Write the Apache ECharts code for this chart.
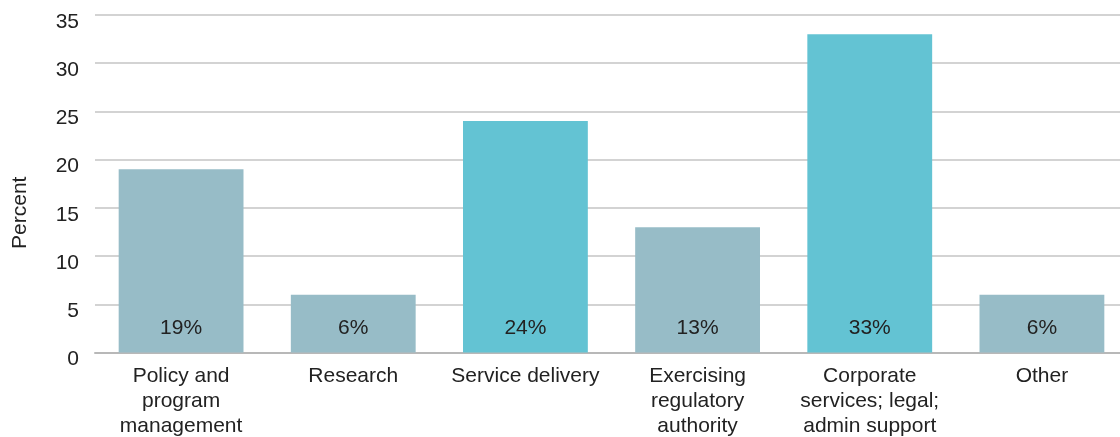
<!DOCTYPE html>
<html><head><meta charset="utf-8">
<script src="https://cdn.jsdelivr.net/npm/echarts@6/dist/echarts.min.js"></script>
<style>html,body{margin:0;padding:0;background:#fff;overflow:hidden}#wrap{width:1120px;height:437px;overflow:hidden}#c{width:1128px;height:437px}</style>
</head><body><div id="wrap"><div id="c"></div></div>
<script>
const categories = ["Policy and\nprogram\nmanagement", "Research", "Service delivery", "Exercising\nregulatory\nauthority", "Corporate\nservices; legal;\nadmin support", "Other"];
const values = [19, 6, 24, 13, 33, 6];
const highlight = [false, false, true, false, true, false];
const yTicks = {min: 0, max: 35, interval: 5};
const colorA = "#97BCC7", colorB = "#63C3D3";
const font = 'Liberation Sans, Arial, sans-serif';
const chart = echarts.init(document.getElementById('c'));
chart.setOption({
  animation: false,
  grid: {left: 95, right: 0, top: 15, bottom: 84.5, containLabel: false, outerBoundsMode: 'none'},
  xAxis: {
    type: 'category', data: categories,
    axisLine: {show: true, lineStyle: {color: '#b8b8b8', width: 2}},
    axisTick: {show: false},
    axisLabel: {color: '#222', fontSize: 21, fontFamily: font, lineHeight: 25, margin: 11, interval: 0}
  },
  yAxis: {
    type: 'value', min: yTicks.min, max: yTicks.max, interval: yTicks.interval,
    name: 'Percent', nameLocation: 'middle', nameGap: 64, nameRotate: 90,
    nameTextStyle: {color: '#222', fontSize: 21, fontFamily: font, padding: [0, 58, 0, 0]},
    axisLine: {show: false}, axisTick: {show: false},
    axisLabel: {
      color: '#222', fontSize: 21, fontFamily: font, margin: 16,
      formatter: '{a|{value}}',
      rich: {a: {fontSize: 21, fontFamily: font, color: '#222', padding: [14, 0, 0, 0]}}
    },
    splitLine: {lineStyle: {color: '#c4c4c4', width: 1.5}}
  },
  series: [{
    type: 'bar', barCategoryGap: '27.5%',
    data: values.map((v, i) => ({value: v, itemStyle: {color: highlight[i] ? colorB : colorA}})),
    label: {show: true, position: 'insideBottom', distance: 14, formatter: '{c}%', color: '#222', fontSize: 21, fontFamily: font}
  }]
});
</script></body></html>
